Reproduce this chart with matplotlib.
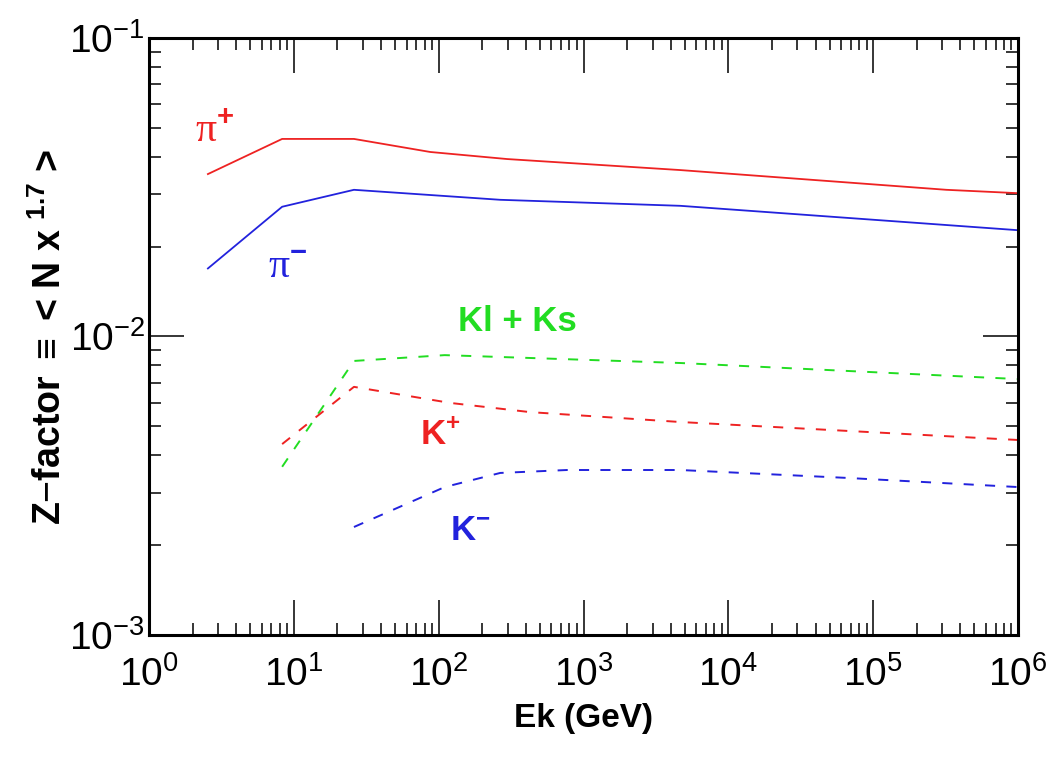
import numpy as np
import matplotlib
matplotlib.use("Agg")
import matplotlib.pyplot as plt

plt.rcParams['font.family'] = ['Liberation Sans', 'DejaVu Sans']
plt.rcParams['mathtext.fontset'] = 'custom'
plt.rcParams['mathtext.rm'] = 'Liberation Sans'
plt.rcParams['mathtext.it'] = 'Liberation Sans:italic'
plt.rcParams['mathtext.bf'] = 'Liberation Sans:bold'

# Courbes (Ek en GeV, Z-factor)
ek_pip = [2.55, 8.3, 26, 87.5, 297, 4650, 3.2e5, 1e6]
z_pip = [0.0350, 0.0459, 0.0459, 0.0415, 0.0393, 0.0361, 0.0310, 0.0302]

ek_pim = [2.55, 8.3, 26, 266, 4650, 1e6]
z_pim = [0.0169, 0.0272, 0.0310, 0.0287, 0.0274, 0.0227]

ek_k0 = [8.3, 26, 110, 4650, 1e6]
z_k0 = [0.00366, 0.00828, 0.00866, 0.00815, 0.00720]

ek_kp = [8.3, 26, 120, 427, 4650, 1e6]
z_kp = [0.00436, 0.00678, 0.00599, 0.00558, 0.00517, 0.00450]

ek_km = [26, 110, 266, 770, 4650, 6.5e4, 1e6]
z_km = [0.00230, 0.00313, 0.00349, 0.00357, 0.00357, 0.00336, 0.00313]

red = '#ee2222'
blue = '#2222dd'
green = '#22dd22'

fig = plt.figure(figsize=(10.51, 7.58), dpi=100)
ax = fig.add_axes([0.1418, 0.1623, 0.8268, 0.7876])

dash = (0, (5.2, 5.8))
ax.plot(ek_pip, z_pip, color=red, lw=1.3)
ax.plot(ek_pim, z_pim, color=blue, lw=1.3)
ax.plot(ek_k0, z_k0, color=green, lw=1.4, linestyle=dash)
ax.plot(ek_kp, z_kp, color=red, lw=1.4, linestyle=dash)
ax.plot(ek_km, z_km, color=blue, lw=1.4, linestyle=dash)

ax.set_xscale('log')
ax.set_yscale('log')
ax.set_xlim(1, 1e6)
ax.set_ylim(1e-3, 1e-1)

# Etiquettes des courbes
ax.text(2.08, 0.0449, r'π$^{\mathbf{+}}$', color=red, fontsize=30,
        family='Liberation Serif')
ax.text(6.63, 0.0157, r'π$^{\mathbf{-}}$', color=blue, fontsize=30,
        family='Liberation Serif')
ax.text(136, 0.0104, 'Kl + Ks', color=green, fontsize=25, fontweight='bold')
ax.text(74.5, 0.00435, r'K$^{\mathbf{+}}$', color=red, fontsize=25, fontweight='bold')
ax.text(120, 0.00208, r'K$^{\mathbf{-}}$', color=blue, fontsize=25, fontweight='bold')

ax.set_xlabel('Ek (GeV)', fontsize=24, fontweight='bold', labelpad=7)
ax.set_ylabel(r'Z$-$factor $\equiv$ < N x $^{\mathbf{1.7}}$ >', fontsize=27,
              fontweight='bold', labelpad=0)

ax.tick_params(which='both', direction='in', top=True, right=True,
               labelsize=28)
ax.tick_params(which='major', length=25, width=1.1)
ax.tick_params(which='minor', length=8.5, width=1.1)
ax.tick_params(axis='x', which='major', pad=15)
ax.tick_params(axis='y', which='major', pad=3)
for s in ax.spines.values():
    s.set_linewidth(2.2)

fig.savefig('out.png', dpi=100)
